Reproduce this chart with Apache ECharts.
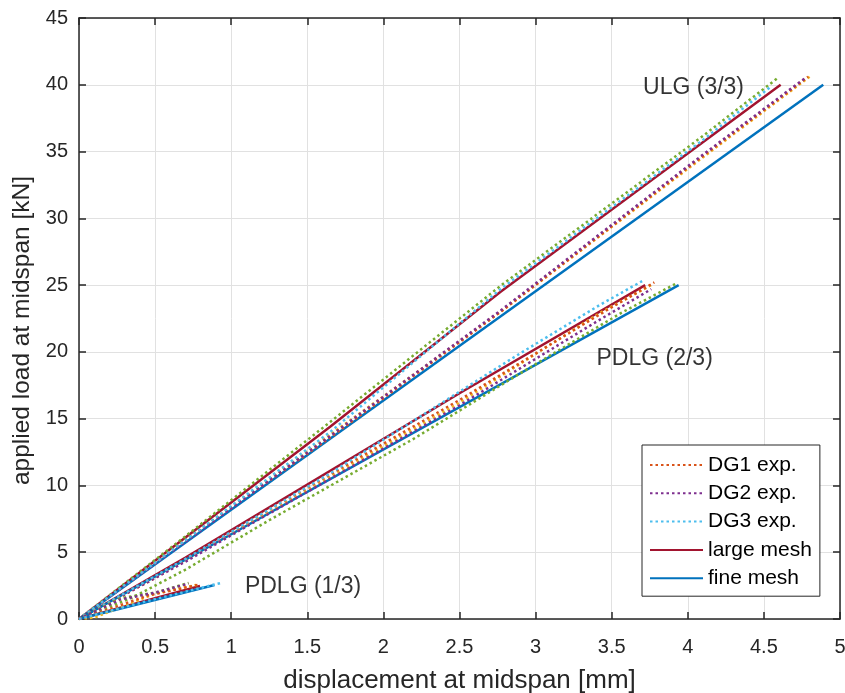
<!DOCTYPE html>
<html>
<head>
<meta charset="utf-8">
<script src="https://cdn.jsdelivr.net/npm/echarts@6/dist/echarts.min.js"></script>
<style>
html,body{margin:0;padding:0;background:#fff;}
#chart{width:845px;height:693px;}
</style>
</head>
<body>
<div id="chart"></div>
<script>
// ---- Data (displacement [mm], load [kN]) ----
const xTicks = [0, 0.5, 1, 1.5, 2, 2.5, 3, 3.5, 4, 4.5, 5];
const yTicks = [0, 5, 10, 15, 20, 25, 30, 35, 40, 45];

// ULG (3/3)
const ulgFine  = [[0,0],[4.89,40.0]];
const ulgLarge = [[0,0],[1.65,14.4],[2.77,24.5],[4.61,40.0]];
const ulgDG1   = [[0,0],[0.7,5.9],[1.65,13.6],[2.77,23.0],[4.08,34.5],[4.79,40.6]];
const ulgDG2   = [[0,0],[0.7,5.8],[1.65,13.7],[2.77,23.1],[4.08,34.6],[4.77,40.5]];
const ulgDG3   = [[0,0],[0.7,5.9],[1.65,14.0],[2.77,24.7],[4.08,35.7],[4.55,39.9]];
const ulgDG4   = [[0,0],[0.7,6.2],[1.65,14.75],[2.77,24.95],[4.08,36.0],[4.59,40.5]];
const ulgDG5   = [[0,0],[0.7,5.9],[1.65,13.8],[2.77,23.0],[4.08,34.4],[4.80,40.6]];

// PDLG (2/3)
const pd2Fine  = [[0,0],[3.94,25.0]];
const pd2Large = [[0,0],[0.7,4.6],[2.5,16.9],[3.72,25.0]];
const pd2DG1   = [[0,0],[0.49,3.0],[1.25,8.2],[2.5,16.4],[3.42,22.8],[3.78,25.2]];
const pd2DG2   = [[0,0],[0.7,4.3],[1.25,7.9],[2.5,16.0],[3.42,22.4],[3.76,24.7]];
const pd2DG3   = [[0,0],[0.7,4.5],[1.65,10.9],[2.9,19.9],[3.42,23.5],[3.70,25.3]];
const pd2DG4   = [[0,0],[0.35,1.6],[0.7,3.7],[1.25,7.4],[2.2,13.5],[2.9,18.4],[3.56,22.9],[3.92,25.1]];
const pd2DG5   = [[0,0],[0.7,4.4],[1.25,8.0],[2.5,16.2],[3.42,22.9],[3.76,25.0]];

// PDLG (1/3)
const pd1Fine  = [[0,0],[0.89,2.55]];
const pd1Large = [[0,0],[0.795,2.47]];
const pd1DG1   = [[0,0],[0.2,0.75],[0.45,1.75],[0.78,2.55]];
const pd1DG2   = [[0,0],[0.27,1.45],[0.51,2.0],[0.72,2.65]];
const pd1DG3   = [[0,0],[0.45,1.35],[0.94,2.72]];
const pd1DG4   = [[0,0],[0.27,1.55],[0.51,2.0],[0.72,2.7]];
const pd1DG5   = [[0,0],[0.1,0.1],[0.3,1.0],[0.5,1.9],[0.77,2.55]];

const annotations = [
  [3.706, 39.8, 'ULG (3/3)'],
  [3.40, 19.5, 'PDLG (2/3)'],
  [1.09, 2.4, 'PDLG (1/3)']
];

const legendNames = ['DG1 exp.', 'DG2 exp.', 'DG3 exp.', 'large mesh', 'fine mesh'];

// ---- Styles ----
const C = {
  fine: '#0072BD', large: '#A2142F',
  dg1: '#D95319', dg2: '#7E2F8E', dg3: '#4DBEEE', dg4: '#77AC30', dg5: '#EDB120'
};
const txt = '#262626';
const font = 'Liberation Sans, Arial, Helvetica, sans-serif';

function solid(name, data, color) {
  return { name, type: 'line', data, symbol: 'none', showSymbol: false, silent: true,
    lineStyle: { color, width: 2.5 }, itemStyle: { color }, z: 2, animation: false };
}
function dotted(name, data, color) {
  return { name, type: 'line', data, symbol: 'none', showSymbol: false, silent: true,
    lineStyle: { color, width: 2.5, type: [2.5, 3] }, itemStyle: { color }, z: 3, animation: false };
}

const series = [];
[[ulgLarge, ulgFine],[pd2Large, pd2Fine],[pd1Large, pd1Fine]].forEach(([l, f]) => {
  series.push(solid('large mesh', l, C.large));
  series.push(solid('fine mesh', f, C.fine));
});
[[ulgDG1,ulgDG2,ulgDG3,ulgDG4,ulgDG5],[pd2DG1,pd2DG2,pd2DG3,pd2DG4,pd2DG5],[pd1DG1,pd1DG2,pd1DG3,pd1DG4,pd1DG5]]
.forEach(([a,b,c,d,e]) => {
  series.push(dotted('DG5 exp.', e, C.dg5));
  series.push(dotted('DG4 exp.', d, C.dg4));
  series.push(dotted('DG1 exp.', a, C.dg1));
  series.push(dotted('DG2 exp.', b, C.dg2));
  series.push(dotted('DG3 exp.', c, C.dg3));
});
series.push({
  name: 'annot', type: 'scatter', data: annotations, symbolSize: 0, silent: true, z: 5,
  label: { show: true, position: 'right', distance: 0, formatter: p => p.data[2],
    color: '#000', fontSize: 23, fontFamily: font }
});

const axisCommonX = {
  type: 'value', min: 0, max: 5, interval: 0.5,
  axisLine: { show: true, onZero: false, lineStyle: { color: txt, width: 1.5 } },
  axisTick: { show: true, inside: true, length: 7, lineStyle: { color: txt, width: 1.5 } },
};
const axisCommonY = {
  type: 'value', min: 0, max: 45, interval: 5,
  axisLine: { show: true, onZero: false, lineStyle: { color: txt, width: 1.5 } },
  axisTick: { show: true, inside: true, length: 7, lineStyle: { color: txt, width: 1.5 } },
};

const option = {
  backgroundColor: '#fff',
  animation: false,
  grid: { left: 79, right: 5, top: 18, bottom: 74, containLabel: false, outerBoundsMode: 'none' },
  xAxis: [
    Object.assign({}, axisCommonX, {
      position: 'bottom',
      name: 'displacement at midspan [mm]', nameLocation: 'middle', nameGap: 49,
      nameTextStyle: { color: txt, fontSize: 26, fontFamily: font },
      axisLabel: { color: txt, fontSize: 20, fontFamily: font, margin: 18,
        formatter: v => (xTicks.indexOf(v) >= 0 ? String(v) : '') },
      splitLine: { show: true, lineStyle: { color: '#e1e1e1', width: 1 } }
    }),
    Object.assign({}, axisCommonX, {
      position: 'top', axisLabel: { show: false }, splitLine: { show: false }
    })
  ],
  yAxis: [
    Object.assign({}, axisCommonY, {
      position: 'left',
      name: 'applied load at midspan [kN]', nameLocation: 'middle', nameGap: 33,
      nameTextStyle: { color: txt, fontSize: 24.5, fontFamily: font, padding: [0, 24, 0, 0] },
      axisLabel: { color: txt, fontSize: 20, fontFamily: font, margin: 11,
        formatter: v => (yTicks.indexOf(v) >= 0 ? String(v) : '') },
      splitLine: { show: true, lineStyle: { color: '#e1e1e1', width: 1 } }
    }),
    Object.assign({}, axisCommonY, {
      position: 'right', axisLabel: { show: false }, splitLine: { show: false }
    })
  ],
  legend: {
    data: legendNames,
    orient: 'vertical', left: 642, top: 445,
    itemWidth: 53, itemHeight: 14, itemGap: 7.3,
    padding: [9.5, 8, 7.5, 7],
    itemStyle: { opacity: 0 },
    borderColor: txt, borderWidth: 1, borderRadius: 0, backgroundColor: '#fff',
    textStyle: { color: '#000', fontSize: 21, fontFamily: font },
    selectedMode: false
  },
  series
};

const chart = echarts.init(document.getElementById('chart'), null, { renderer: 'canvas' });
chart.setOption(option);
</script>
</body>
</html>
